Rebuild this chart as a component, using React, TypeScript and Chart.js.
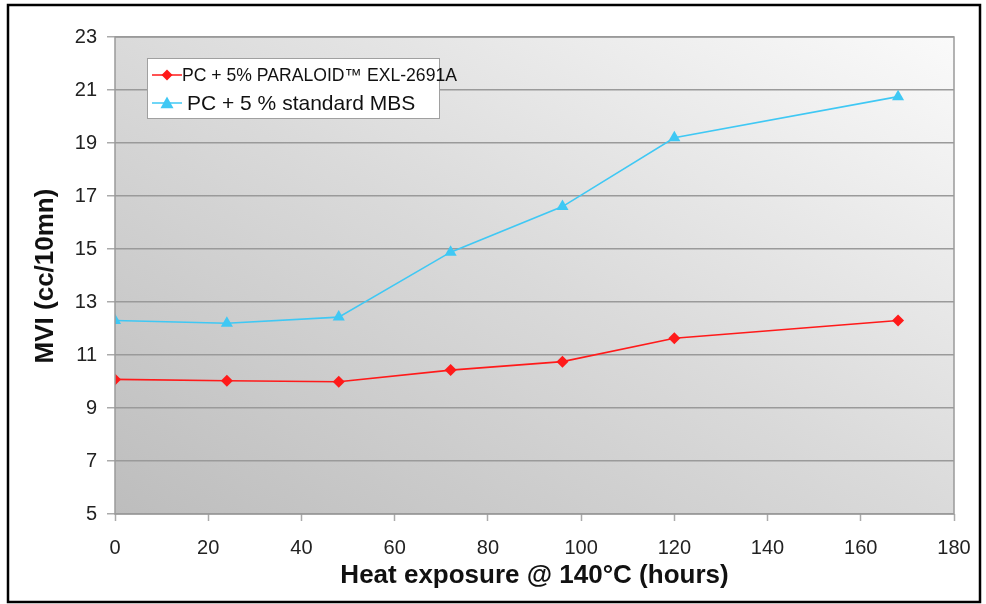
import React, { useEffect, useRef } from "react";
import { Chart, registerables } from "chart.js";

Chart.register(...registerables);

const hours = [0, 24, 48, 72, 96, 120, 168];
const paraloidMVI = [10.08, 10.03, 9.99, 10.43, 10.75, 11.63, 12.3];
const standardMBS = [12.3, 12.2, 12.43, 14.88, 16.6, 19.2, 20.75];
const seriesLabels = ["PC + 5% PARALOID\u2122 EXL-2691A", "PC + 5 % standard MBS"];
const xTitle = "Heat exposure @ 140\u00b0C (hours)";
const yTitle = "MVI (cc/10mn)";

const FONT = "'Liberation Sans', Arial, sans-serif";
const RED = "#ff1a1a";
const BLUE = "#3fc8f4";

const decorPlugin = {
  id: "decor",
  beforeDraw(chart: any) {
    const { ctx, chartArea } = chart;
    const { left, right, top, bottom } = chartArea;
    ctx.save();
    ctx.fillStyle = "#ffffff";
    ctx.fillRect(0, 0, chart.width, chart.height);
    const w = right - left, h = bottom - top;
    const cx = (left + right) / 2, cy = (top + bottom) / 2;
    const k = (w * h) / (w * w + h * h);
    const g = ctx.createLinearGradient(cx - k * h, cy + k * w, cx + k * h, cy - k * w);
    g.addColorStop(0, "#bdbdbd");
    g.addColorStop(0.5, "#dadada");
    g.addColorStop(1, "#fafafa");
    ctx.fillStyle = g;
    ctx.fillRect(left, top, w, h);
    ctx.restore();
  },
  afterDraw(chart: any) {
    const { ctx, chartArea } = chart;
    const { left, right, top, bottom } = chartArea;
    ctx.save();
    ctx.strokeStyle = "#9a9a9a";
    ctx.lineWidth = 1.5;
    ctx.strokeRect(left, top, right - left, bottom - top);
    ctx.strokeStyle = "#000";
    ctx.lineWidth = 2.5;
    ctx.strokeRect(8, 5, 972, 597);
    ctx.fillStyle = "#111";
    ctx.font = `bold 26px ${FONT}`;
    ctx.textAlign = "center";
    ctx.textBaseline = "middle";
    ctx.fillText(xTitle, (left + right) / 2, 576);
    ctx.save();
    ctx.translate(46, 276);
    ctx.rotate(-Math.PI / 2);
    ctx.fillText(yTitle, 0, 0);
    ctx.restore();
    const bx = 147, by = 58, bw = 292, bh = 60;
    ctx.fillStyle = "#ffffff";
    ctx.fillRect(bx, by, bw, bh);
    ctx.strokeStyle = "#a0a0a0";
    ctx.lineWidth = 1;
    ctx.strokeRect(bx + 0.5, by + 0.5, bw, bh);
    const rows = [
      { y: 75, color: RED, style: "rectRot", r: 5.5, tx: 182, size: 17.6 },
      { y: 103, color: BLUE, style: "triangle", r: 6.5, tx: 187, size: 21 },
    ];
    rows.forEach((row, i) => {
      ctx.strokeStyle = row.color;
      ctx.lineWidth = 1.5;
      ctx.beginPath();
      ctx.moveTo(152, row.y);
      ctx.lineTo(182, row.y);
      ctx.stroke();
      ctx.fillStyle = row.color;
      ctx.beginPath();
      if (row.style === "rectRot") {
        ctx.moveTo(167, row.y - row.r);
        ctx.lineTo(167 + row.r, row.y);
        ctx.lineTo(167, row.y + row.r);
        ctx.lineTo(167 - row.r, row.y);
      } else {
        ctx.moveTo(167, row.y - row.r);
        ctx.lineTo(167 + row.r, row.y + row.r * 0.8);
        ctx.lineTo(167 - row.r, row.y + row.r * 0.8);
      }
      ctx.closePath();
      ctx.fill();
      ctx.fillStyle = "#111";
      ctx.font = `${row.size}px ${FONT}`;
      ctx.textAlign = "left";
      ctx.textBaseline = "middle";
      ctx.fillText(seriesLabels[i], row.tx, row.y + 1);
    });
    ctx.restore();
  },
};

export default function App() {
  const ref = useRef<HTMLCanvasElement | null>(null);
  useEffect(() => {
    document.body.style.margin = "0";
    const canvas = ref.current!;
    const chart = new Chart(canvas, {
      type: "line",
      data: {
        datasets: [
          {
            label: seriesLabels[0],
            data: hours.map((h, i) => ({ x: h, y: paraloidMVI[i] })),
            borderColor: RED,
            backgroundColor: RED,
            borderWidth: 1.6,
            pointStyle: "rectRot",
            pointRadius: 6,
            pointBorderWidth: 0,
            tension: 0,
          },
          {
            label: seriesLabels[1],
            data: hours.map((h, i) => ({ x: h, y: standardMBS[i] })),
            borderColor: BLUE,
            backgroundColor: BLUE,
            borderWidth: 1.6,
            pointStyle: "triangle",
            pointRadius: 7,
            pointBorderWidth: 0,
            tension: 0,
          },
        ],
      },
      options: {
        animation: false,
        responsive: false,
        maintainAspectRatio: false,
        layout: { padding: { left: 0, top: 37, right: 32, bottom: 0 } },
        plugins: { legend: { display: false }, tooltip: { enabled: false } },
        scales: {
          x: {
            type: "linear",
            min: 0,
            max: 180,
            afterFit: (s: any) => {
              s.height = 90;
            },
            ticks: {
              stepSize: 20,
              padding: 15,
              color: "#222",
              font: { family: FONT, size: 20 },
              maxRotation: 0,
            },
            grid: {
              display: true,
              drawOnChartArea: false,
              drawTicks: true,
              tickLength: 7,
              tickColor: "#aaaaaa",
              tickWidth: 1.5,
            },
            border: { display: false },
          },
          y: {
            type: "linear",
            min: 5,
            max: 23,
            afterFit: (s: any) => {
              s.width = 115;
            },
            ticks: {
              stepSize: 2,
              padding: 10,
              color: "#222",
              font: { family: FONT, size: 20 },
            },
            grid: {
              color: "#9a9a9a",
              lineWidth: 1.5,
              tickLength: 8,
              tickColor: "#aaaaaa",
              tickWidth: 1.5,
            },
            border: { display: false },
          },
        },
      },
      plugins: [decorPlugin],
    } as any);
    return () => chart.destroy();
  }, []);
  return <canvas ref={ref} width={986} height={604} style={{ display: "block" }} />;
}
